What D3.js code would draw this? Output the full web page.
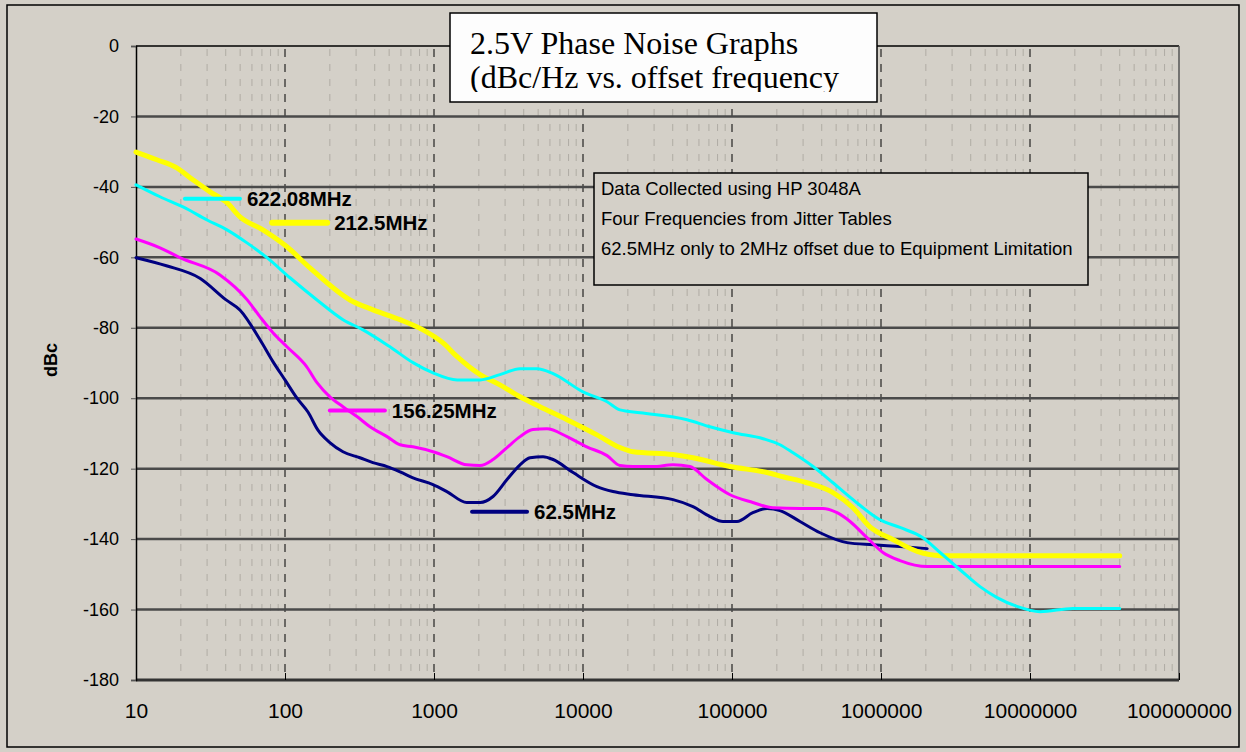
<!DOCTYPE html>
<html>
<head>
<meta charset="utf-8">
<script src="https://cdn.jsdelivr.net/npm/d3@7"></script>
<style>
  body { margin: 0; background: #d4d0c8; }
  svg { display: block; }
</style>
</head>
<body>
<div id="chart"></div>
<script>
// offset frequency (Hz) and phase noise (dBc/Hz)
const navyFreq = [10, 16, 27, 40, 50, 68, 83, 100, 120, 143, 166, 200, 245, 318, 389, 484, 592, 723, 985, 1220,
  1660, 2040, 2490, 3090, 3780, 4410, 5390, 6300, 8580, 12400, 15900, 21700, 40200, 54700, 71100, 87000,
  108000, 138000, 172000, 210000, 286000, 390000, 592000, 884000, 1340000, 2040000]
const navyDbc = [-60.1, -62.4, -66, -72, -75, -83.4, -89.6, -94.8, -99.9, -104, -109, -112.6, -115.2, -116.9, -118.3,
  -119.4, -120.9, -122.6, -124.5, -126.5, -129.6, -129.6, -127.9, -123.1, -118.9, -116.9, -116.6, -117.4, -121.1,
  -125.1, -126.5, -127.4, -128.8, -130.8, -133.6, -135, -135, -132.5, -131.3, -131.9, -135, -138.2, -141, -141.6,
  -142.1, -142.7]

const magentaFreq = [10, 14.5, 19.7, 36.6, 55.6, 68, 83, 103, 140, 164, 200, 245, 304, 372, 484, 592, 723, 985, 1220,
  1660, 2040, 2490, 3090, 3780, 4610, 5730, 7810, 10600, 14500, 17700, 21700, 29500, 40200, 52200, 67900, 97000,
  138000, 188000, 286000, 408000, 507000, 620000, 805000, 1030000, 1340000, 2040000, 40000000]
const magentaDbc = [-54.8, -57.3, -60.1, -65, -72, -76.9, -81.4, -85.4, -91.1, -95.6, -99.6, -102.4, -105.2, -108.1,
  -110.9, -113.2, -113.8, -115.2, -116.6, -118.9, -119.1, -117.4, -114, -110.9, -108.9, -108.7, -110.9, -113.8,
  -116.3, -119.1, -119.4, -119.4, -118.9, -119.4, -123.1, -127.4, -129.6, -131.1, -131.3, -131.3, -132.5, -135,
  -139.6, -143.8, -146.1, -147.8, -147.8]

const yellowFreq = [10, 13.8, 18.8, 24.1, 31.4, 40.8, 49.9, 71.1, 103, 147, 273, 390, 592, 844, 1150, 1430, 2040,
  2770, 3780, 5140, 7810, 12400, 17700, 21700, 40200, 54700, 97000, 172000, 220000, 318000, 476000, 649000,
  843000, 1200000, 1750000, 2490000, 40000000]
const yellowDbc = [-30.1, -32.3, -34.6, -38, -41.4, -44.5, -48.5, -52.2, -57, -63, -72.1, -74.9, -77.7, -80.6, -84.3,
  -88.2, -93.3, -96.2, -99.6, -102.4, -106.1, -110.4, -114, -115.2, -116, -116.9, -119.4, -121.1, -122.3, -124,
  -126.8, -131.1, -136.5, -140.1, -143.5, -144.7, -144.7]

const cyanFreq = [10, 14.5, 20.7, 30, 40.8, 55.6, 75.7, 108, 164, 245, 334, 506, 723, 985, 1430, 2040, 2770, 3780,
  4910, 6300, 10000, 14500, 17700, 24200, 49900, 71100, 102000, 162000, 210000, 257000, 350000, 476000, 649000,
  984000, 1340000, 1910000, 2490000, 3390000, 4620000, 6010000, 8180000, 11700000, 19400000, 40000000]
const cyanDbc = [-39.4, -42.8, -45.7, -49.4, -52.2, -55.9, -60.1, -65.8, -72.1, -77.7, -80.6, -85.4, -89.9, -92.8,
  -94.8, -94.8, -93.3, -91.6, -91.6, -93, -98.2, -101, -103.3, -104.1, -106.1, -108.1, -109.8, -111.5, -113.2,
  -115.5, -119.4, -124, -128.8, -134.5, -136.7, -139.6, -143.8, -148.7, -153.5, -156.6, -159.1, -160.6, -159.7,
  -159.7]

const yTicks = [0, -20, -40, -60, -80, -100, -120, -140, -160, -180]
const xTicks = [10, 100, 1000, 10000, 100000, 1000000, 10000000, 100000000]
const titleLines = ["2.5V Phase Noise Graphs", "(dBc/Hz vs. offset frequency"]
const noteLines = ["Data Collected using HP 3048A", "Four Frequencies from Jitter Tables",
  "62.5MHz only to 2MHz offset due to Equipment Limitation"]

// drawn bottom to top
const series = [
  { name: "62.5MHz", freq: navyFreq, dbc: navyDbc, color: "#000080", width: 3, lab: [1800, -132.2] },
  { name: "156.25MHz", freq: magentaFreq, dbc: magentaDbc, color: "#ff00ff", width: 3, lab: [200, -103.5] },
  { name: "212.5MHz", freq: yellowFreq, dbc: yellowDbc, color: "#ffff00", width: 5, lab: [82, -50.2] },
  { name: "622.08MHz", freq: cyanFreq, dbc: cyanDbc, color: "#00ffff", width: 3, lab: [21.3, -43.4] }
]

const width = 1246
const height = 752
const plot = { left: 136, right: 1179, top: 46, bottom: 680 }
const bg = "#d4d0c8"

const svg = d3.select("#chart").append("svg")
  .attr("width", width)
  .attr("height", height)
  .style("font-family", "Arial, 'Liberation Sans', sans-serif")

svg.append("rect")
  .attr("x", 7).attr("y", 5)
  .attr("width", 1232).attr("height", 742)
  .attr("fill", bg)
  .attr("stroke", "#000")
  .attr("stroke-width", 1.5)

const x = d3.scaleLog().domain([10, 1e8]).range([plot.left, plot.right])
const y = d3.scaleLinear().domain([-180, 0]).range([plot.bottom, plot.top])

// minor vertical grid
const minor = []
for (let d = 10; d < 1e8; d *= 10) {
  for (let k = 2; k <= 9; k++) minor.push(d * k)
}
svg.append("g")
  .selectAll("line")
  .data(minor)
  .enter()
  .append("line")
  .attr("x1", d => x(d)).attr("x2", d => x(d))
  .attr("y1", plot.top).attr("y2", plot.bottom)
  .attr("stroke", "#b0aca4")
  .attr("stroke-width", 1)
  .attr("stroke-dasharray", "7,8")
  .attr("stroke-dashoffset", -3)

// decade grid
svg.append("g")
  .selectAll("line")
  .data(xTicks.slice(1, -1))
  .enter()
  .append("line")
  .attr("x1", d => x(d)).attr("x2", d => x(d))
  .attr("y1", plot.top).attr("y2", plot.bottom)
  .attr("stroke", "#000")
  .attr("stroke-width", 1)
  .attr("stroke-dasharray", "8,7")
  .attr("stroke-dashoffset", -3)

// horizontal grid
svg.append("g")
  .selectAll("line")
  .data(yTicks.slice(1, -1))
  .enter()
  .append("line")
  .attr("x1", plot.left).attr("x2", plot.right)
  .attr("y1", d => y(d)).attr("y2", d => y(d))
  .attr("stroke", "#4a4a4a")
  .attr("stroke-width", 2.5)

// plot frame
svg.append("line")
  .attr("x1", plot.left).attr("x2", plot.right)
  .attr("y1", plot.top).attr("y2", plot.top)
  .attr("stroke", "#000").attr("stroke-width", 1.5)
svg.append("line")
  .attr("x1", plot.right).attr("x2", plot.right)
  .attr("y1", plot.top).attr("y2", plot.bottom)
  .attr("stroke", "#555").attr("stroke-width", 1.5)
svg.append("line")
  .attr("x1", plot.left).attr("x2", plot.right)
  .attr("y1", plot.bottom).attr("y2", plot.bottom)
  .attr("stroke", "#333").attr("stroke-width", 3)

// y axis
const yAxis = svg.append("g")
  .attr("transform", `translate(${plot.left},0)`)
  .call(d3.axisLeft(y).tickValues(yTicks).tickSize(5).tickPadding(12).tickFormat(d => String(d)))
yAxis.select(".domain").attr("stroke", "#000").attr("stroke-width", 1.5)
yAxis.selectAll(".tick line").attr("stroke", "#555")
yAxis.selectAll("text")
  .attr("font-size", "18px")
  .attr("font-family", "Arial, 'Liberation Sans', sans-serif")
  .attr("fill", "#000")

// x axis
const xAxis = svg.append("g")
  .attr("transform", `translate(0,${plot.bottom})`)
  .call(d3.axisBottom(x).tickValues(xTicks).tickSize(-7).tickPadding(23).tickFormat(d => String(d)))
xAxis.select(".domain").remove()
xAxis.selectAll(".tick line").attr("stroke", "#000")
xAxis.selectAll("text")
  .attr("font-size", "21px")
  .attr("font-family", "Arial, 'Liberation Sans', sans-serif")
  .attr("fill", "#000")

svg.append("text")
  .attr("transform", "translate(57,360) rotate(-90)")
  .attr("text-anchor", "middle")
  .attr("font-size", "18px")
  .attr("font-weight", "bold")
  .text("dBc")

// series
const line = d3.line()
  .x(d => x(d[0]))
  .y(d => y(d[1]))
  .curve(d3.curveMonotoneX)

svg.append("g")
  .selectAll("path")
  .data(series)
  .enter()
  .append("path")
  .attr("d", s => line(s.freq.map((f, i) => [f, s.dbc[i]])))
  .attr("fill", "none")
  .attr("stroke", s => s.color)
  .attr("stroke-width", s => s.width)
  .attr("stroke-linecap", "round")
  .attr("stroke-linejoin", "round")

// series labels
const lab = svg.append("g")
  .selectAll("g")
  .data(series)
  .enter()
  .append("g")
  .attr("transform", s => `translate(${x(s.lab[0])},${y(s.lab[1])})`)
lab.append("line")
  .attr("x1", 0).attr("x2", 55)
  .attr("stroke", s => s.color)
  .attr("stroke-width", s => s.width + 1)
  .attr("stroke-linecap", "round")
lab.append("text")
  .attr("x", 62).attr("dy", "0.36em")
  .attr("font-size", "20.5px")
  .attr("font-weight", "bold")
  .attr("fill", "#000")
  .text(s => s.name)

// title box
svg.append("clipPath").attr("id", "titleClip")
  .append("rect").attr("x", 450).attr("y", 13).attr("width", 427).attr("height", 79)
svg.append("rect")
  .attr("x", 450).attr("y", 13)
  .attr("width", 427).attr("height", 89)
  .attr("fill", "#fdfdfd")
  .attr("stroke", "#000")
  .attr("stroke-width", 1.5)
svg.append("g")
  .attr("clip-path", "url(#titleClip)")
  .selectAll("text")
  .data(titleLines)
  .enter()
  .append("text")
  .attr("x", 470)
  .attr("y", (d, i) => 54 + i * 34)
  .attr("font-family", "'Times New Roman', 'Liberation Serif', serif")
  .attr("font-size", "32px")
  .attr("fill", "#000")
  .text(d => d)

// note box
svg.append("rect")
  .attr("x", 594).attr("y", 173)
  .attr("width", 494).attr("height", 112)
  .attr("fill", bg)
  .attr("stroke", "#000")
  .attr("stroke-width", 1.5)
svg.append("g")
  .selectAll("text")
  .data(noteLines)
  .enter()
  .append("text")
  .attr("x", 601)
  .attr("y", (d, i) => 195 + i * 30)
  .attr("font-size", "18.5px")
  .attr("fill", "#000")
  .text(d => d)
</script>
</body>
</html>
